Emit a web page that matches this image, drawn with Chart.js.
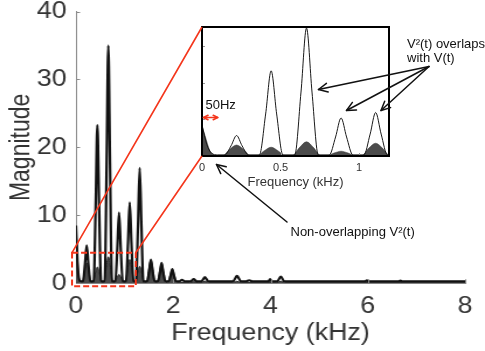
<!DOCTYPE html>
<html><head><meta charset="utf-8">
<script src="https://cdn.jsdelivr.net/npm/chart.js@4.4.1/dist/chart.umd.min.js"></script>
<style>
html,body{margin:0;padding:0;background:#fff;width:485px;height:351px;overflow:hidden}
#mainWrap{position:absolute;left:0;top:0;width:415px;height:351px;transform:scaleX(1.16867);transform-origin:0 0}
#inset{position:absolute;left:0;top:0}
</style></head><body>
<div id="mainWrap"><canvas id="main" width="415" height="351"></canvas></div>
<canvas id="inset" width="485" height="351"></canvas>
<script>
// ---- data ----
const freqV = [0, 0.03, 0.06, 0.1,
  0.145, 0.185, 0.22, 0.255, 0.295,
  0.365, 0.405, 0.44, 0.475, 0.515,
  0.59, 0.63, 0.665, 0.70, 0.74,
  0.81, 0.85, 0.885, 0.92, 0.96,
  1.03, 1.07, 1.105, 1.14, 1.18,
  1.235, 1.275, 1.31, 1.345, 1.385,
  1.465, 1.505, 1.54, 1.575, 1.615,
  1.685, 1.725, 1.76, 1.795, 1.835,
  1.905, 1.945, 1.98, 2.015, 2.055,
  2.13, 2.18, 2.23,
  2.36, 2.42, 2.48,
  2.58, 2.65, 2.72,
  3.23, 3.31, 3.39,
  3.50, 3.56, 3.62,
  3.96, 3.99, 4.02,
  4.14, 4.21, 4.28,
  5.95, 5.98, 6.01,
  6.64, 6.67, 6.70,
  8.0];
const magV = [8.5, 3.2, 0.8, 0.3,
  0.3, 2.8, 5.6, 2.8, 0.3,
  0.3, 11.5, 23.3, 11.5, 0.3,
  0.3, 17.5, 35.0, 17.5, 0.3,
  0.3, 5.2, 10.4, 5.2, 0.3,
  0.3, 6.0, 11.9, 6.0, 0.3,
  0.3, 8.5, 17.0, 8.5, 0.3,
  0.3, 1.8, 3.5, 1.8, 0.3,
  0.3, 1.5, 3.0, 1.5, 0.3,
  0.3, 1.1, 2.1, 1.1, 0.3,
  0.3, 0.5, 0.3,
  0.3, 0.6, 0.3,
  0.3, 0.9, 0.3,
  0.3, 1.1, 0.3,
  0.3, 0.45, 0.3,
  0.3, 0.6, 0.3,
  0.3, 1.0, 0.3,
  0.3, 0.45, 0.3,
  0.3, 0.4, 0.3,
  0.3];
const freqV2 = [0, 0.02, 0.05, 0.08,
  0.13, 0.175, 0.22, 0.265, 0.31,
  0.35, 0.395, 0.44, 0.485, 0.53,
  0.575, 0.62, 0.665, 0.71, 0.755,
  0.795, 0.84, 0.885, 0.93, 0.975,
  1.015, 1.06, 1.105, 1.15, 1.195,
  1.22, 1.265, 1.31, 1.355, 1.40,
  1.45, 1.495, 1.54, 1.585, 1.63,
  1.67, 1.715, 1.76, 1.805, 1.85,
  1.89, 1.935, 1.98, 2.025, 2.07,
  2.34, 2.42, 2.50,
  2.57, 2.65, 2.73,
  3.23, 3.31, 3.39,
  4.13, 4.21, 4.29,
  8.0];
const magV2 = [8.3, 5.5, 1.5, 0.2,
  0.1, 1.8, 3.0, 1.8, 0.1,
  0.1, 1.4, 2.4, 1.4, 0.1,
  0.1, 2.3, 3.9, 2.3, 0.1,
  0.1, 0.8, 1.3, 0.8, 0.1,
  0.1, 2.1, 3.5, 2.1, 0.1,
  0.1, 1.5, 2.5, 1.5, 0.1,
  0.1, 2.0, 3.4, 2.0, 0.1,
  0.1, 1.7, 2.9, 1.7, 0.1,
  0.1, 1.2, 2.1, 1.2, 0.1,
  0.1, 0.25, 0.1,
  0.1, 0.3, 0.1,
  0.1, 0.3, 0.1,
  0.1, 0.3, 0.1,
  0.1];
const mainXTicks = [0, 2, 4, 6, 8];
const mainYTicks = [0, 10, 20, 30, 40];
const insetXTicks = [0, 0.5, 1];
const insetYTicks = [10, 20, 30];

// ---- rendering ----
const S = 485 / 415;
const FONT = "'Liberation Sans', Arial, Helvetica, sans-serif";
const toPts = (xs, ys) => xs.map((x, i) => ({x: x, y: ys[i]}));
const plainLabel = v => String(v);

const mainTicksPlugin = {
  id: 'mainTicks',
  afterDraw(chart) {
    const {ctx, chartArea: a, scales: {x, y}} = chart;
    ctx.save();
    ctx.strokeStyle = '#8a8a8a';
    ctx.lineWidth = 1;
    ctx.beginPath();
    mainYTicks.forEach(v => { if (v === 0) return; const py = Math.round(y.getPixelForValue(v)) + 0.5; ctx.moveTo(a.left, py); ctx.lineTo(a.left + 3.5, py); });
    mainXTicks.forEach(v => { if (v === 0) return; const px = Math.round(x.getPixelForValue(v)) + 0.5; ctx.moveTo(px, a.bottom); ctx.lineTo(px, a.bottom - 4); });
    ctx.stroke();
    ctx.restore();
  }
};

const mainChart = new Chart(document.getElementById('main'), {
  type: 'line',
  data: {
    datasets: [
      {data: toPts(freqV, magV), borderColor: '#111', borderWidth: 2.2, pointRadius: 0, cubicInterpolationMode: 'monotone', fill: false},
      {data: toPts(freqV2, magV2), borderColor: '#262626', borderWidth: 1, backgroundColor: '#4b4b4b', pointRadius: 0, cubicInterpolationMode: 'monotone', fill: 'origin'}
    ]
  },
  options: {
    responsive: false, devicePixelRatio: 1, animation: false,
    layout: {padding: {top: 11.5, right: 17, left: 0, bottom: 0}},
    plugins: {legend: {display: false}, tooltip: {enabled: false}},
    scales: {
      x: {
        type: 'linear', min: 0, max: 8,
        afterBuildTicks: s => { s.ticks = mainXTicks.map(v => ({value: v})); },
        ticks: {font: {family: FONT, size: 23}, color: '#333', padding: 10, maxRotation: 0, callback: plainLabel},
        grid: {display: false, drawTicks: false},
        border: {display: true, color: '#8a8a8a', width: 1},
        title: {display: true, text: 'Frequency (kHz)', font: {family: FONT, size: 23}, color: '#333', padding: {top: 0, bottom: 4}},
        afterFit: s => { s.height = 67.7; s.paddingLeft = 0; s.paddingRight = 0; }
      },
      y: {
        type: 'linear', min: 0, max: 40,
        afterBuildTicks: s => { s.ticks = mainYTicks.map(v => ({value: v})); },
        ticks: {font: {family: FONT, size: 23}, color: '#333', padding: 8, callback: plainLabel},
        grid: {display: false, drawTicks: false},
        border: {display: true, color: '#8a8a8a', width: 1},
        title: {display: true, text: 'Magnitude', font: {family: FONT, size: 23}, color: '#333', padding: {top: 5, bottom: 0}},
        afterFit: s => { s.width = 65; s.paddingTop = 0; s.paddingBottom = 0; }
      }
    }
  },
  plugins: [mainTicksPlugin]
});

function arrow(ctx, x1, y1, x2, y2, head, color, lw, both) {
  ctx.save();
  ctx.strokeStyle = color; ctx.lineWidth = lw; ctx.lineCap = 'round'; ctx.lineJoin = 'round';
  ctx.beginPath(); ctx.moveTo(x1, y1); ctx.lineTo(x2, y2); ctx.stroke();
  const drawHead = (tx, ty, fx, fy) => {
    const ang = Math.atan2(ty - fy, tx - fx);
    ctx.beginPath();
    ctx.moveTo(tx - head * Math.cos(ang - 0.45), ty - head * Math.sin(ang - 0.45));
    ctx.lineTo(tx, ty);
    ctx.lineTo(tx - head * Math.cos(ang + 0.45), ty - head * Math.sin(ang + 0.45));
    ctx.stroke();
  };
  drawHead(x2, y2, x1, y1);
  if (both) drawHead(x1, y1, x2, y2);
  ctx.restore();
}

const insetPlugin = {
  id: 'insetDeco',
  beforeDatasetsDraw(chart) {
    const {ctx, chartArea: a} = chart;
    ctx.save(); ctx.fillStyle = '#fff'; ctx.fillRect(a.left, a.top, a.right - a.left, a.bottom - a.top); ctx.restore();
  },
  afterDraw(chart) {
    const {ctx, chartArea: a, scales: {x, y}} = chart;
    ctx.save();
    // small inward ticks
    ctx.strokeStyle = '#999'; ctx.lineWidth = 1; ctx.beginPath();
    insetYTicks.forEach(v => { const py = Math.round(y.getPixelForValue(v)) + 0.5; ctx.moveTo(a.left, py); ctx.lineTo(a.left + 3, py); });
    insetXTicks.forEach(v => { if (v === 0) return; const px = Math.round(x.getPixelForValue(v)) + 0.5; ctx.moveTo(px, a.bottom); ctx.lineTo(px, a.bottom - 3); });
    ctx.stroke();
    // frame
    ctx.strokeStyle = '#000'; ctx.lineWidth = 2;
    ctx.strokeRect(a.left, a.top, a.right - a.left, a.bottom - a.top);

    // zoom box on main chart + connecting lines
    const mx = mainChart.scales.x, my = mainChart.scales.y;
    const bx0 = mx.getPixelForValue(-0.08) * S, bx1 = mx.getPixelForValue(1.23) * S;
    const by0 = my.getPixelForValue(4.5), by1 = my.getPixelForValue(-0.45);
    const red = '#f4361c';
    ctx.strokeStyle = red; ctx.lineWidth = 1.6;
    ctx.beginPath(); ctx.moveTo(bx0, by0); ctx.lineTo(a.left, a.top); ctx.moveTo(bx1, by0); ctx.lineTo(a.left, a.bottom); ctx.stroke();
    ctx.lineWidth = 2; ctx.setLineDash([6, 3]);
    ctx.strokeRect(bx0, by0, bx1 - bx0, by1 - by0);
    ctx.setLineDash([]);

    // 50Hz marker
    const yArrow = 117.5;
    arrow(ctx, x.getPixelForValue(0) + 1.5, yArrow, x.getPixelForValue(0.1), yArrow, 5, red, 1.6, true);
    ctx.fillStyle = '#111'; ctx.font = '13px ' + FONT; ctx.textBaseline = 'middle'; ctx.textAlign = 'left';
    ctx.fillText('50Hz', 205.5, 105);

    // overlap annotation
    ctx.fillText('V\u00B2(t) overlaps', 407, 44);
    ctx.fillText('with V(t)', 407, 58);
    const ox = 429, oy = 66.5;
    arrow(ctx, ox, oy, 318.5, 89.5, 10, '#111', 1.5);
    arrow(ctx, ox, oy, 346.5, 110.5, 10, '#111', 1.5);
    arrow(ctx, ox, oy, 381, 110.5, 10, '#111', 1.5);

    // non-overlapping annotation
    ctx.fillText('Non-overlapping V\u00B2(t)', 290.5, 232);
    arrow(ctx, 287, 222, 216.5, 164.5, 10, '#111', 1.5);
    ctx.restore();
  }
};

new Chart(document.getElementById('inset'), {
  type: 'line',
  data: {
    datasets: [
      {data: toPts(freqV, magV), borderColor: '#1a1a1a', borderWidth: 1, pointRadius: 0, cubicInterpolationMode: 'monotone', fill: false},
      {data: toPts(freqV2, magV2), borderColor: '#333', borderWidth: 0.5, backgroundColor: '#4b4b4b', pointRadius: 0, cubicInterpolationMode: 'monotone', fill: 'origin'}
    ]
  },
  options: {
    responsive: false, devicePixelRatio: 1, animation: false,
    layout: {padding: {top: 27, right: 96, left: 202, bottom: 153}},
    plugins: {legend: {display: false}, tooltip: {enabled: false}},
    scales: {
      x: {
        type: 'linear', min: 0, max: 1.19,
        afterBuildTicks: s => { s.ticks = insetXTicks.map(v => ({value: v})); },
        ticks: {font: {family: FONT, size: 11}, color: '#333', padding: 5, maxRotation: 0, callback: plainLabel},
        grid: {display: false, drawTicks: false},
        border: {display: false},
        title: {display: true, text: 'Frequency (kHz)', font: {family: FONT, size: 13}, color: '#333', padding: {top: 0, bottom: 8}},
        afterFit: s => { s.height = 42; s.paddingLeft = 0; s.paddingRight = 0; }
      },
      y: {type: 'linear', min: 0, max: 35.3, display: false}
    }
  },
  plugins: [insetPlugin]
});
</script>
</body></html>
